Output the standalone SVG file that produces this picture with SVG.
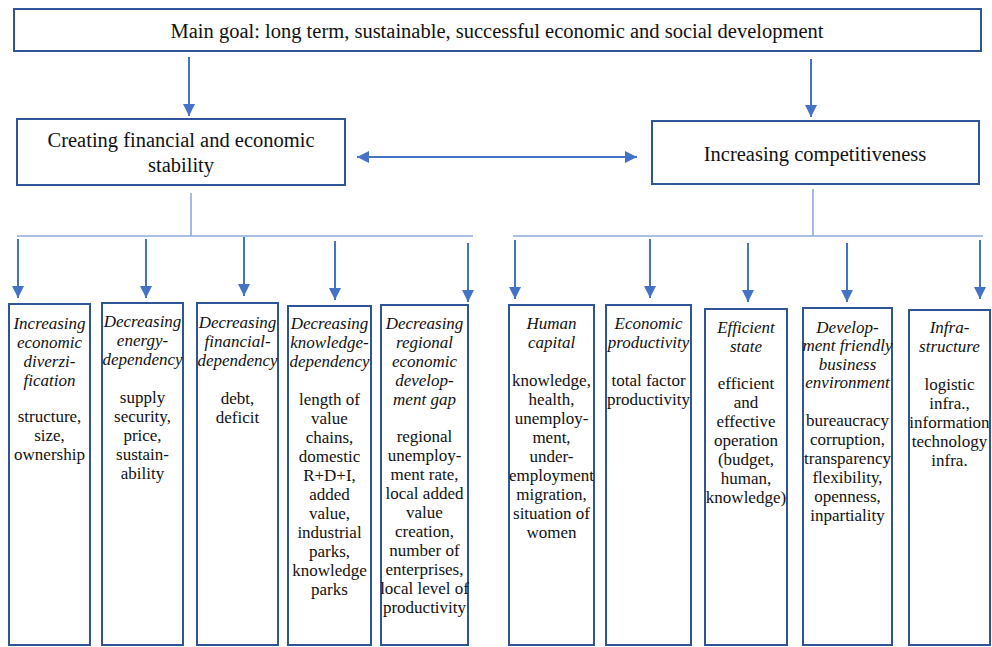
<svg xmlns="http://www.w3.org/2000/svg" width="992" height="647" viewBox="0 0 992 647">
<style>
.box{fill:#fff;stroke:#2F5597;stroke-width:2}
.t{font-family:"Liberation Serif","Times New Roman",serif;fill:#111;text-anchor:middle}
.big{font-size:20.5px}
.sm{font-size:17px}
.it{font-style:italic}
.arr{stroke:#4472C4;stroke-width:2;fill:none;marker-end:url(#ah)}
.bar{stroke:#8FAADC;stroke-width:1.6;fill:none}
</style>
<defs>
<marker id="ah" viewBox="0 0 10 10" refX="10" refY="5" markerWidth="12" markerHeight="12" markerUnits="userSpaceOnUse" orient="auto-start-reverse">
<path d="M0,0 L10,5 L0,10 z" fill="#4472C4"/>
</marker>
</defs>
<rect width="992" height="647" fill="#fff"/>

<g id="connectors">
<line class="arr" x1="189" y1="57" x2="189" y2="116"/>
<line class="arr" x1="811" y1="59" x2="811" y2="117"/>
<line class="arr" x1="357" y1="157" x2="637" y2="157" style="marker-start:url(#ah)"/>
<line class="bar" x1="191" y1="193" x2="191" y2="236"/>
<line class="bar" x1="17" y1="236" x2="473" y2="236"/>
<line class="bar" x1="813" y1="189" x2="813" y2="236"/>
<line class="bar" x1="513" y1="236" x2="983" y2="236"/>
<line class="arr" x1="18" y1="239" x2="18" y2="298"/>
<line class="arr" x1="146" y1="239" x2="146" y2="298"/>
<line class="arr" x1="244" y1="237" x2="244" y2="296"/>
<line class="arr" x1="335" y1="241" x2="335" y2="300"/>
<line class="arr" x1="468" y1="243" x2="468" y2="302"/>
<line class="arr" x1="515" y1="240" x2="515" y2="299"/>
<line class="arr" x1="650" y1="239" x2="650" y2="298"/>
<line class="arr" x1="748" y1="243" x2="748" y2="302"/>
<line class="arr" x1="847" y1="243" x2="847" y2="302"/>
<line class="arr" x1="980" y1="240" x2="980" y2="299"/>
</g>

<g id="main">
<rect class="box" x="14" y="9" width="967" height="42"/>
<text class="t big" x="497" y="38">Main goal: long term, sustainable, successful economic and social development</text>
</g>

<g id="stability">
<rect class="box" x="17" y="119" width="328" height="66"/>
<text class="t big" x="181" y="147">Creating financial and economic</text>
<text class="t big" x="181" y="172">stability</text>
</g>

<g id="competitiveness">
<rect class="box" x="652" y="121" width="327" height="63"/>
<text class="t big" x="815" y="161">Increasing competitiveness</text>
</g>

<g id="diversification">
<rect class="box" x="9" y="304" width="81" height="341"/>
<text class="t sm it"><tspan x="49.5" y="329">Increasing</tspan><tspan x="49.5" y="348">economic</tspan><tspan x="49.5" y="367">diverzi-</tspan><tspan x="49.5" y="386">fication</tspan></text>
<text class="t sm"><tspan x="49.5" y="422">structure,</tspan><tspan x="49.5" y="441">size,</tspan><tspan x="49.5" y="460">ownership</tspan></text>
</g>

<g id="energy">
<rect class="box" x="102" y="303" width="81" height="342"/>
<text class="t sm it"><tspan x="142.5" y="327">Decreasing</tspan><tspan x="142.5" y="346">energy-</tspan><tspan x="142.5" y="365">dependency</tspan></text>
<text class="t sm"><tspan x="142.5" y="403">supply</tspan><tspan x="142.5" y="422">security,</tspan><tspan x="142.5" y="441">price,</tspan><tspan x="142.5" y="460">sustain-</tspan><tspan x="142.5" y="479">ability</tspan></text>
</g>

<g id="financial">
<rect class="box" x="197" y="303" width="81" height="342"/>
<text class="t sm it"><tspan x="237.5" y="328">Decreasing</tspan><tspan x="237.5" y="347">financial-</tspan><tspan x="237.5" y="366">dependency</tspan></text>
<text class="t sm"><tspan x="237.5" y="404">debt,</tspan><tspan x="237.5" y="423">deficit</tspan></text>
</g>

<g id="knowledge">
<rect class="box" x="288" y="306" width="83" height="339"/>
<text class="t sm it"><tspan x="329.5" y="329">Decreasing</tspan><tspan x="329.5" y="348">knowledge-</tspan><tspan x="329.5" y="367">dependency</tspan></text>
<text class="t sm"><tspan x="329.5" y="405">length of</tspan><tspan x="329.5" y="424">value</tspan><tspan x="329.5" y="443">chains,</tspan><tspan x="329.5" y="462">domestic</tspan><tspan x="329.5" y="481">R+D+I,</tspan><tspan x="329.5" y="500">added</tspan><tspan x="329.5" y="519">value,</tspan><tspan x="329.5" y="538">industrial</tspan><tspan x="329.5" y="557">parks,</tspan><tspan x="329.5" y="576">knowledge</tspan><tspan x="329.5" y="595">parks</tspan></text>
</g>

<g id="regional">
<rect class="box" x="381" y="305" width="87" height="340"/>
<text class="t sm it"><tspan x="424.5" y="329">Decreasing</tspan><tspan x="424.5" y="348">regional</tspan><tspan x="424.5" y="367">economic</tspan><tspan x="424.5" y="386">develop-</tspan><tspan x="424.5" y="405">ment gap</tspan></text>
<text class="t sm"><tspan x="424.5" y="442">regional</tspan><tspan x="424.5" y="461">unemploy-</tspan><tspan x="424.5" y="480">ment rate,</tspan><tspan x="424.5" y="499">local added</tspan><tspan x="424.5" y="518">value</tspan><tspan x="424.5" y="537">creation,</tspan><tspan x="424.5" y="556">number of</tspan><tspan x="424.5" y="575">enterprises,</tspan><tspan x="424.5" y="594">local level of</tspan><tspan x="424.5" y="613">productivity</tspan></text>
</g>

<g id="human">
<rect class="box" x="509" y="305" width="85" height="340"/>
<text class="t sm it"><tspan x="551.5" y="329">Human</tspan><tspan x="551.5" y="348">capital</tspan></text>
<text class="t sm"><tspan x="551.5" y="386">knowledge,</tspan><tspan x="551.5" y="405">health,</tspan><tspan x="551.5" y="424">unemploy-</tspan><tspan x="551.5" y="443">ment,</tspan><tspan x="551.5" y="462">under-</tspan><tspan x="551.5" y="481">employment</tspan><tspan x="551.5" y="500">migration,</tspan><tspan x="551.5" y="519">situation of</tspan><tspan x="551.5" y="538">women</tspan></text>
</g>

<g id="productivity">
<rect class="box" x="606" y="305" width="85" height="340"/>
<text class="t sm it"><tspan x="648.5" y="329">Economic</tspan><tspan x="648.5" y="348">productivity</tspan></text>
<text class="t sm"><tspan x="648.5" y="386">total factor</tspan><tspan x="648.5" y="405">productivity</tspan></text>
</g>

<g id="state">
<rect class="box" x="705" y="309" width="82" height="336"/>
<text class="t sm it"><tspan x="746" y="333">Efficient</tspan><tspan x="746" y="352">state</tspan></text>
<text class="t sm"><tspan x="746" y="389">efficient</tspan><tspan x="746" y="408">and</tspan><tspan x="746" y="427">effective</tspan><tspan x="746" y="446">operation</tspan><tspan x="746" y="465">(budget,</tspan><tspan x="746" y="484">human,</tspan><tspan x="746" y="503">knowledge)</tspan></text>
</g>

<g id="business">
<rect class="box" x="803" y="308" width="89" height="337"/>
<text class="t sm it"><tspan x="847.5" y="333">Develop-</tspan><tspan x="847.5" y="351">ment friendly</tspan><tspan x="847.5" y="370">business</tspan><tspan x="847.5" y="388">environment</tspan></text>
<text class="t sm"><tspan x="847.5" y="426">bureaucracy</tspan><tspan x="847.5" y="445">corruption,</tspan><tspan x="847.5" y="464">transparency</tspan><tspan x="847.5" y="483">flexibility,</tspan><tspan x="847.5" y="502">openness,</tspan><tspan x="847.5" y="521">inpartiality</tspan></text>
</g>

<g id="infrastructure">
<rect class="box" x="909" y="310" width="81" height="335"/>
<text class="t sm it"><tspan x="949.5" y="333">Infra-</tspan><tspan x="949.5" y="352">structure</tspan></text>
<text class="t sm"><tspan x="949.5" y="390">logistic</tspan><tspan x="949.5" y="409">infra.,</tspan><tspan x="949.5" y="428">information</tspan><tspan x="949.5" y="447">technology</tspan><tspan x="949.5" y="466">infra.</tspan></text>
</g>
</svg>
